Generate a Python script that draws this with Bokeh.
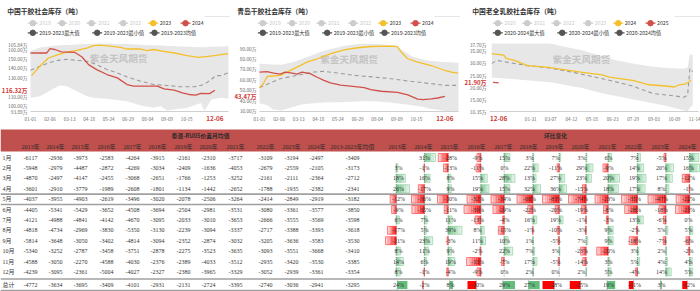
from bokeh.plotting import figure
from bokeh.layouts import column, row
from bokeh.models import Range1d, FixedTicker, PrintfTickFormatter, LinearAxis
from bokeh.core.properties import value
from bokeh.embed import file_html
from bokeh.resources import INLINE

# ------------------------------------------------------------------ chart 1 data
c1_title = "中国干胶社会库存（吨）"
c1_years = ["2019", "2020", "2021", "2022", "2023", "2024"]
c1_stats = ["2019-2023最大值", "2019-2023最小值", "2019-2023均值"]
c1_xticks = [0, 36, 72, 108, 144, 180, 216, 252, 288]
c1_xlabels = ["01-01", "02-06", "03-13", "04-18", "05-24", "06-29", "08-04", "09-09", "10-15"]
c1_yticks = [93.89, 100, 110, 130, 140, 150, 160, 165.84]
c1_band_x = [0, 17, 29, 42, 54, 67, 79, 91, 104, 116, 141, 178, 203, 227, 240, 252, 265, 289, 314, 320, 327, 333, 351, 365]
c1_band_lo = [108.4, 110, 113.7, 117.9, 121.4, 120.7, 117.2, 113.7, 110, 108.4, 107.4, 104.8, 100.3, 97.9, 99.6, 95, 96, 97.9, 103, 95, 100, 106.7, 108.4, 107.5]
c1_band_hi = [158, 161.5, 162.5, 163.5, 164, 164.3, 164.6, 165, 165.3, 165.7, 165.84, 165.2, 164.6, 164, 163.6, 163.2, 162.8, 162.3, 162, 162, 162.2, 162.3, 162.6, 163]
c1_mean_x = [0, 17, 33, 51, 67, 85, 104, 122, 141, 160, 178, 203, 227, 252, 277, 302, 320, 333, 342, 351, 364]
c1_mean_y = [137.5, 141.7, 145.2, 148, 149, 148, 147, 143.5, 138.2, 134.7, 130.5, 125.9, 122.4, 121.4, 120, 120, 122.4, 127.7, 131.9, 131.9, 134.7]
c1_prev_x = [2, 17, 33, 51, 67, 85, 104, 116, 129, 147, 166, 178, 203, 215, 227, 246, 265, 289, 308, 327, 339, 351, 364]
c1_prev_y = [131.9, 141.7, 150.5, 154, 156.8, 158.5, 161, 163.5, 164.2, 163, 161.7, 160, 160, 158.2, 159.5, 157.5, 155.8, 153, 151.2, 152.2, 153, 154, 155]
c1_cur_x = [0, 30, 36, 45, 57, 82, 95, 107, 122, 141, 160, 178, 190, 234, 246, 265, 280, 292, 305, 314, 330, 340]
c1_cur_y = [155.8, 155.8, 160.5, 159.5, 157, 156.4, 151.6, 143.5, 138.2, 133, 129.5, 122.4, 120.7, 120.7, 117.9, 116.4, 113.7, 111.9, 111.2, 113, 112.8, 116.32]
c1_today = "12-06"
c1_today_idx = 340

# ------------------------------------------------------------------ chart 2 data
c2_title = "青岛干胶社会库存（吨）"
c2_years = ["2019", "2020", "2021", "2022", "2023", "2024"]
c2_stats = ["2019-2023最大值", "2019-2023最小值", "2019-2023均值"]
c2_xticks = [0, 36, 72, 108, 144, 180, 216, 252, 288]
c2_xlabels = ["01-01", "02-06", "03-13", "04-18", "05-24", "06-29", "08-04", "09-09", "10-15"]
c2_yticks = [30, 40, 50, 60, 70, 80, 90]
c2_band_x = [0, 15, 25, 40, 60, 69, 80, 100, 110, 130, 150, 155, 180, 190, 215, 220, 240, 250, 260, 280, 300, 310, 330, 340, 365]
c2_band_lo = [37, 35, 31, 30, 33, 34.5, 36, 37, 37.5, 37.8, 38, 38.2, 38.7, 39, 38.7, 38.5, 37.6, 37, 36.5, 35, 33.5, 32, 30.5, 29.5, 28.5]
c2_band_hi = [75, 74.5, 74.3, 74, 76.5, 78, 80, 84, 86, 89, 91.5, 92, 94, 94.2, 94, 93.8, 93, 92.5, 89, 82, 79, 78, 77, 76.6, 76]
c2_mean_x = [0, 38, 69, 100, 118, 143, 174, 210, 241, 272, 315, 340, 364]
c2_mean_y = [52, 60.6, 63.8, 67, 67.7, 66.1, 63.8, 62.2, 60.6, 58.4, 55.8, 54.2, 54.2]
c2_prev_x = [0, 7, 14, 38, 50, 69, 87, 106, 130, 155, 180, 204, 241, 253, 260, 272, 290, 315, 340, 352, 364]
c2_prev_y = [51.8, 55.7, 62.7, 63.7, 66.9, 71.7, 76.5, 79.8, 84.6, 88.4, 90.4, 91.6, 92, 91.5, 86.1, 79.8, 76.5, 73.3, 68.5, 66.9, 66]
c2_cur_x = [0, 14, 26, 38, 47, 60, 69, 78, 93, 106, 118, 130, 149, 167, 192, 204, 223, 253, 272, 290, 300, 315, 327, 340]
c2_cur_y = [67, 67.5, 66, 65, 67, 66, 65, 67, 65.5, 62, 59, 56.5, 54.5, 53.5, 52, 50, 48.5, 47.5, 45, 41, 40.5, 41.2, 42, 43.47]
c2_today = "12-06"
c2_today_idx = 340

# ------------------------------------------------------------------ chart 3 data
c3_title = "中国老全乳胶社会库存（吨）"
c3_years = ["2020", "2021", "2022", "2023", "2024", "2025"]
c3_stats = ["2020-2024最大值", "2020-2024最小值", "2020-2024均值"]
c3_xticks = [72, 107, 143, 179, 215, 251, 287, 323, 359]
c3_xlabels = ["01-31", "03-07", "04-12", "05-18", "06-23", "07-29", "09-03", "10-09", "11-14"]
c3_yticks = [10.35, 15, 20, 25, 30, 35, 37.7]
c3_band_x = [4, 45, 75, 104, 110, 133, 151, 162, 191, 197, 221, 250, 279, 308, 337, 346, 350, 355]
c3_band_lo = [24, 23.3, 22.7, 22.1, 22, 21, 20.2, 19.8, 18, 17.7, 16.6, 15.3, 14, 12.7, 11, 10.35, 12, 13]
c3_band_hi = [37.7, 37.7, 37.7, 37.7, 37.5, 36.3, 35.5, 35, 33, 32.7, 31, 29.7, 28.5, 27.8, 27.5, 28, 33.5, 33]
c3_mean_x = [4, 13, 28, 66, 104, 150, 209, 250, 285, 320, 340, 346, 350, 355]
c3_mean_y = [29.7, 30.9, 30.3, 28.8, 27.9, 25.9, 22.9, 20.6, 17.6, 16.7, 16.1, 17, 27.7, 26.4]
c3_prev_x = [4, 25, 29, 45, 66, 104, 133, 159, 197, 209, 250, 279, 308, 323, 331, 343, 352]
c3_prev_y = [33.6, 33, 31.7, 30.8, 28.8, 28.1, 27.1, 26.2, 25.1, 24.2, 22.9, 21.1, 20.6, 20.2, 21.1, 21.5, 22.9]
c3_cur_x = [6, 11, 16]
c3_cur_y = [22.1, 22.0, 21.9]
c3_today = "12-06"
c3_today_idx = 16

watermark = "紫金天风期货"

# ------------------------------------------------------------------ table data
tbl_title_left = "泰混-RU05价差月均值"
tbl_title_right = "环比变化"
row_labels = ["1月", "2月", "3月", "4月", "5月", "6月", "7月", "8月", "9月", "10月", "11月", "12月", "总计"]
year_labels = ["2013年", "2014年", "2015年", "2016年", "2017年", "2018年", "2019年", "2020年",
               "2021年", "2022年", "2023年", "2024年"]
avg_label = "2013-2023年均值"

spread_2013 = [-6117, -5948, -4870, -3601, -4037, -4405, -4121, -4818, -5814, -5340, -4588, -4239, -4772]
spread_2014 = [-2936, -2979, -2497, -2910, -3955, -5341, -4988, -4734, -3648, -3252, -3050, -3095, -3634]
spread_2015 = [-3973, -4487, -4147, -3779, -4903, -5429, -4841, -2969, -3050, -2787, -2270, -2361, -3695]
spread_2016 = [-2583, -2872, -2455, -1989, -2619, -3652, -4142, -3830, -3402, -3458, -4588, -5004, -3409]
spread_2017 = [-4264, -4269, -3068, -2608, -3496, -4508, -4670, -5350, -4814, -3751, -4030, -4027, -4101]
spread_2018 = [-3915, -3034, -2651, -1801, -3020, -3694, -3095, -3130, -3094, -2878, -2376, -2327, -2931]
spread_2019 = [-2161, -2409, -1766, -1134, -2078, -2504, -2033, -2239, -2352, -2275, -2389, -2380, -2131]
spread_2020 = [-2310, -1636, -1253, -1442, -2506, -2981, -3010, -3094, -2874, -3523, -4033, -3965, -2724]
spread_2021 = [-3717, -4053, -3252, -2652, -3264, -3531, -3653, -3337, -3032, -3635, -3512, -3329, -3395]
spread_2022 = [-3109, -2679, -2161, -1788, -2414, -3080, -2666, -2717, -3205, -3093, -2935, -3052, -2740]
spread_2023 = [-3194, -2559, -2111, -1935, -2849, -3361, -3555, -3388, -3636, -3551, -3420, -2939, -3036]
spread_2024 = [-2497, -2105, -2364, -2382, -2919, -3577, -3569, -3393, -3583, -3668, -3530, -3361, -2941]
spread_avg = [-3409, -3173, -2712, -2341, -3182, -3850, -3598, -3618, -3530, -3410, -3385, -3354, -3295]

pct_2013 = [None, 3, 18, 26, -12, -9, 6, -17, -21, 8, 14, 8, 24]
pct_2014 = [31, -1, 16, -17, -36, -35, 7, 5, 23, 11, 6, -1, -2]
pct_2015 = [-28, -13, 8, 9, -30, -11, 11, 39, -3, 9, 19, -4, 8]
pct_2016 = [-9, -11, 15, 19, -32, -39, -13, 8, 11, -2, -33, -9, -20]
pct_2017 = [15, 0, 28, 15, -34, -29, -4, -15, 10, 22, -7, 0, 29]
pct_2018 = [3, 22, 13, 32, -68, -22, 16, -1, 1, 7, 17, 2, 27]
pct_2019 = [7, -11, 27, 36, -83, -20, 19, -10, -5, 3, -5, 0, -28]
pct_2020 = [3, 29, 23, -15, -74, -19, -1, -3, 7, -23, -14, 2, -25]
pct_2021 = [6, -9, 20, 18, -23, -8, -3, 9, 9, -20, 3, 5, 19]
pct_2022 = [7, 14, 19, 17, -35, -28, 13, -2, -18, 3, 5, -4, -11]
pct_2023 = [-5, 20, 17, 8, -47, -18, -6, 5, -7, 2, 4, 14, 3]
pct_2024 = [15, 16, -12, -1, -22, -23, 0, 5, -6, -2, 4, 5, -12]

# ------------------------------------------------------------------ styles
CJK = "Noto Sans CJK SC"
SERIF = "Liberation Serif"
MIXF = "Liberation Serif, Noto Sans CJK SC"
YELLOW = "#f4c02a"
RED = "#d2504b"
RED_TXT = "#cf3a35"
BAND = "#e7e7e7"
MEAN = "#9b9b9b"
GREY_LEG = "#cccccc"
DARK_LEG = "#555555"
AX_TXT = "#6b6b6b"
HDR = "#c0504d"


def header(fw, shift, title, years, stats):
    h = figure(width=fw, height=40, output_backend="svg", toolbar_location=None,
               x_range=Range1d(0, fw), y_range=Range1d(40, 0),
               x_axis_location=None, y_axis_location=None, min_border=0,
               outline_line_color=None)
    h.grid.visible = False
    h.text(x=[shift + 6.7], y=[10], text=[title], text_font=value(CJK), text_font_size="6.8px",
           text_font_style="bold", text_color="#333333", text_baseline="middle")
    h.segment(x0=[fw - 26], x1=[fw], y0=[16], y1=[16], line_color="#e0e0e0", line_width=0.8)
    off1 = [0, 29.4, 58.7, 90.4, 120.4, 152.7]
    off2 = [0, 64.4, 121.7]
    col1 = [GREY_LEG] * 4 + [YELLOW, RED]
    tcol1 = [GREY_LEG] * 4 + ["#333333", "#333333"]
    for offs, labels, cols, tcols, yy in ((off1, years, col1, tcol1, 22.7),
                                         (off2, stats, [DARK_LEG] * 3, ["#333333"] * 3, 32.3)):
        mx = [shift + 32.3 + o for o in offs]
        h.segment(x0=[m - 5 for m in mx], x1=[m + 5 for m in mx], y0=[yy] * len(mx), y1=[yy] * len(mx),
                  line_color=cols, line_width=1.2)
        h.scatter(mx, [yy] * len(mx), size=5.5, fill_color=cols, line_color=cols)
        h.text(x=[m + 6.5 for m in mx], y=[yy] * len(mx), text=labels, text_color=tcols,
               text_font=value(CJK), text_font_size="5.2px", text_baseline="middle")
    return h


def style_axis(ax, size, color, standoff, bold=False):
    ax.axis_line_color = None
    ax.major_tick_line_color = None
    ax.minor_tick_line_color = None
    ax.major_tick_out = 0
    ax.major_tick_in = 0
    ax.minor_tick_out = 0
    ax.minor_tick_in = 0
    ax.major_label_standoff = standoff
    ax.major_label_text_font = CJK
    ax.major_label_text_font_size = size
    ax.major_label_text_color = color
    if bold:
        ax.major_label_text_font_style = "bold"


FH = 86          # chart figure height
PT, PB = 3, 71   # plot area top / bottom (px from figure top)


def chart(fw, fl, fr, yr, yticks, xticks, xlabels, bx, blo, bhi, mx, my, px, py, cx, cy,
          today, today_idx, wm_frac):
    # the drawable frame spans the whole figure; axes are pinned to the plot area's
    # edges so that every label stays inside it
    ux = 365.0 / (fr - fl)
    x0, x1 = -fl * ux, (fw - fl) * ux
    uy = (yr[1] - yr[0]) / (PB - PT)
    y1, y0 = yr[1] + PT * uy, yr[1] - (FH - PT) * uy
    p = figure(width=fw, height=FH, output_backend="svg", toolbar_location=None,
               x_range=Range1d(x0, x1), y_range=Range1d(y0, y1),
               x_axis_location=None, y_axis_location=None, min_border=0,
               outline_line_color=None)
    p.title.visible = False
    p.grid.visible = False
    p.varea(x=bx, y1=blo, y2=bhi, fill_color=BAND)
    wx = 365 * wm_frac[0]
    wy = yr[1] - (yr[1] - yr[0]) * wm_frac[1]
    p.text(x=[wx], y=[wy], text=[watermark], text_font=value(CJK), text_font_size="9.6px",
           text_color="#c4c4c4", text_align="center", text_baseline="middle", text_font_style="bold")
    p.line(mx, my, line_color=MEAN, line_dash="4 3", line_width=1.1)
    p.line(px, py, line_color=YELLOW, line_width=1.3)
    p.line(cx, cy, line_color=RED, line_width=1.3)

    xa = LinearAxis(fixed_location=yr[0], ticker=FixedTicker(ticks=xticks), bounds=(0, 365))
    xa.major_label_overrides = {t: l for t, l in zip(xticks, xlabels)}
    style_axis(xa, "4.6px", AX_TXT, 5)
    xa.axis_line_color = "#cfcfcf"
    p.add_layout(xa, "below")

    ya = LinearAxis(fixed_location=0, ticker=FixedTicker(ticks=yticks),
                    formatter=PrintfTickFormatter(format="%.2f万"))
    style_axis(ya, "4.8px", AX_TXT, 3)
    p.add_layout(ya, "left")

    last = cy[-1]
    ry = LinearAxis(fixed_location=0, ticker=FixedTicker(ticks=[last]),
                    formatter=PrintfTickFormatter(format="%.2f万"))
    style_axis(ry, "6px", RED_TXT, 3, bold=True)
    p.add_layout(ry, "left")

    # today's date, written under the x axis in red
    p.text(x=[today_idx], y=[yr[0] - 7.3 * uy], text=[today], text_font=value(CJK),
           text_font_size="6.3px", text_font_style="bold", text_color=RED_TXT,
           text_align="center", text_baseline="middle")
    return p


h1 = header(230, 0, c1_title, c1_years, c1_stats)
h2 = header(230, 0, c2_title, c2_years, c2_stats)
h3 = header(240, 5, c3_title, c3_years, c3_stats)

p1 = chart(230, 30, 228, (93.89, 165.84), c1_yticks, c1_xticks, c1_xlabels, c1_band_x, c1_band_lo, c1_band_hi,
           c1_mean_x, c1_mean_y, c1_prev_x, c1_prev_y, c1_cur_x, c1_cur_y, c1_today, c1_today_idx, (0.445, 0.21))
p2 = chart(230, 29, 228, (29.0, 94.5), c2_yticks, c2_xticks, c2_xlabels, c2_band_x, c2_band_lo, c2_band_hi,
           c2_mean_x, c2_mean_y, c2_prev_x, c2_prev_y, c2_cur_x, c2_cur_y, c2_today, c2_today_idx, (0.45, 0.23))
p3 = chart(240, 29, 238, (10.35, 37.7), c3_yticks, c3_xticks, c3_xlabels, c3_band_x, c3_band_lo, c3_band_hi,
           c3_mean_x, c3_mean_y, c3_prev_x, c3_prev_y, c3_cur_x, c3_cur_y, c3_today, c3_today_idx, (0.44, 0.23))

# ------------------------------------------------------------------ table
t = figure(width=700, height=165, output_backend="svg", toolbar_location=None,
           x_range=Range1d(0, 700), y_range=Range1d(165, 0),
           x_axis_location=None, y_axis_location=None, min_border=0, outline_line_color=None)
t.grid.visible = False

spreads = [spread_2013, spread_2014, spread_2015, spread_2016, spread_2017, spread_2018,
           spread_2019, spread_2020, spread_2021, spread_2022, spread_2023, spread_2024]
pcts = [pct_2013, pct_2014, pct_2015, pct_2016, pct_2017, pct_2018,
        pct_2019, pct_2020, pct_2021, pct_2022, pct_2023, pct_2024]

row_y = [31 + 10.4 * i for i in range(12)] + [158.5]
sp_cx = [30, 55, 80, 106, 132, 157, 183, 208, 235, 265, 291, 316]
avg_cx = 352
pc_cx = [397, 423, 449, 476, 503, 528, 554, 580, 607, 633, 660, 687]
pc_edges = [384, 410, 436, 462.5, 489.5, 515.5, 541, 567, 593.5, 620, 646.5, 674, 700]

t.quad(left=[0], right=[700], top=[3], bottom=[25], fill_color=HDR, line_color=None)
t.text(x=[200, 555], y=[9, 9], text=[tbl_title_left, tbl_title_right], text_font=value(CJK),
       text_font_size="5.8px", text_font_style="bold", text_color="#2a2a2a",
       text_align="center", text_baseline="middle")
hx = sp_cx + [avg_cx] + pc_cx
hl = year_labels + [avg_label] + year_labels
t.text(x=hx, y=[20] * len(hx), text=hl, text_font=value(MIXF), text_font_size="6px",
       text_color="#2a2a2a", text_align="center", text_baseline="middle")

t.segment(x0=[0] * 4, x1=[700] * 4, y0=[67.6, 78, 152.5, 164], y1=[67.6, 78, 152.5, 164],
          line_color="#a0a0a0", line_width=1.6)

t.text(x=[2] * len(row_labels), y=row_y, text=row_labels, text_font=value(MIXF),
       text_font_size="6px", text_color="#333333", text_baseline="middle")

vx, vy, vt = [], [], []
for j, col in enumerate(spreads):
    for i, v in enumerate(col):
        vx.append(sp_cx[j]); vy.append(row_y[i]); vt.append(str(v))
for i, v in enumerate(spread_avg):
    vx.append(avg_cx); vy.append(row_y[i]); vt.append(str(v))
t.text(x=vx, y=vy, text=vt, text_font=value(SERIF), text_font_size="6px", text_color="#333333",
       text_align="center", text_baseline="middle")

GREEN_RGB = (0x63, 0xBE, 0x7B)
RED_RGB = (0xFF, 0x00, 0x00)


def shade(rgb, k):
    return "#%02x%02x%02x" % tuple(int(round(c + (255 - c) * 0.86 * k)) for c in rgb)


ql, qr, qt, qb, qc = [], [], [], [], []
bl_, br_, bt_, bb_, bc_ = [], [], [], [], []
ax_x, ax_y0, ax_y1 = [], [], []
tot_vals = [c[12] for c in pcts]
tmin, tmax = min(min(tot_vals), 0), max(max(tot_vals), 0)
N = 8
for j, col in enumerate(pcts):
    vals = [v for v in col[:12] if v is not None]
    m, M = min(min(vals), 0), max(max(vals), 0)
    cl, cr = pc_edges[j] + 1, pc_edges[j + 1] - 1
    W = cr - cl
    for i, v in enumerate(col):
        if v is None:
            continue
        lo, hi = (tmin, tmax) if i == 12 else (m, M)
        axis = cl + W * (-lo) / (hi - lo)
        L = v * W / (hi - lo)
        y = row_y[i]
        ax_x.append(axis); ax_y0.append(y - 4.5); ax_y1.append(y + 4.5)
        if v == 0:
            continue
        base = GREEN_RGB if v > 0 else RED_RGB
        if i == 12:
            ql.append(min(axis, axis + L)); qr.append(max(axis, axis + L))
            qt.append(y - 4); qb.append(y + 4); qc.append(shade(base, 0.0))
        else:
            for k in range(N):
                a = axis + L * k / N
                b = axis + L * (k + 1) / N
                ql.append(min(a, b)); qr.append(max(a, b))
                qt.append(y - 4); qb.append(y + 4); qc.append(shade(base, (k + 0.5) / N))
            bl_.append(min(axis, axis + L)); br_.append(max(axis, axis + L))
            bt_.append(y - 4); bb_.append(y + 4); bc_.append(shade(base, 0.25))

t.quad(left=ql, right=qr, top=qt, bottom=qb, fill_color=qc, line_color=None)
t.quad(left=bl_, right=br_, top=bt_, bottom=bb_, fill_alpha=0, line_color=bc_, line_width=0.6)
t.segment(x0=ax_x, x1=ax_x, y0=ax_y0, y1=ax_y1, line_color="#555555", line_width=0.6, line_dash="1 1")

px_, py_, pt_ = [], [], []
for j, col in enumerate(pcts):
    for i, v in enumerate(col):
        if v is None:
            continue
        px_.append(pc_cx[j] + 1); py_.append(row_y[i]); pt_.append("%d%%" % v)
t.text(x=px_, y=py_, text=pt_, text_font=value(SERIF), text_font_size="6px", text_color="#333333",
       text_align="center", text_baseline="middle")

layout = column(row(h1, h2, h3), row(p1, p2, p3), t)
open("out.html", "w").write(file_html(layout, INLINE))
